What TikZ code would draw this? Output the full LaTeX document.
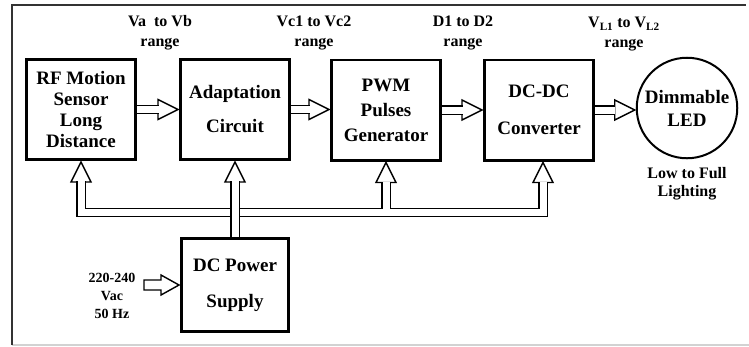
\documentclass[tikz,border=0pt]{standalone}
\usepackage{fontspec}
\setmainfont{Liberation Serif}
\usetikzlibrary{calc}
\newcommand\boxfont{\fontsize{19}{21}\selectfont\bfseries}
\newcommand\lblfont{\fontsize{16}{20}\selectfont\bfseries}
\newcommand\smallfont{\fontsize{14}{18}\selectfont\bfseries}
\begin{document}
\begin{tikzpicture}[x=1pt,y=-1pt,
  block/.style={draw,line width=2.6pt,minimum width=109.4pt,minimum height=100.4pt,align=center,font=\boxfont},
  pipe/.style={double,double distance=7pt,line width=1.4pt,line join=miter},
  head/.style={draw,fill=white,line width=1.4pt,line join=miter},
  lbl/.style={align=center,font=\lblfont}]
\useasboundingbox (0,0) rectangle (749,346);
\draw[gray!35,line width=1.5pt] (12,345) -- (749,345);
\draw[black!80,line width=2pt] (12,345) -- (12,5) -- (746,5);

\node[block] (rf) at (81,109.5) {RF Motion\\Sensor\\Long\\Distance};
\node[block] (ad) at (235,109.5) {Adaptation\\[13pt]Circuit};
\node[block] (pwm) at (386,110) {PWM\\[4pt]Pulses\\[4pt]Generator};
\node[block] (dc) at (539,110) {DC-DC\\[16pt]Converter};
\node[draw,circle,line width=2pt,minimum size=86pt,align=center,font=\boxfont] (led) at (687,108) {Dimmable\\[2pt]LED};
\node[block,minimum width=107.4pt,minimum height=93.4pt] (ps) at (235,285) {DC Power\\[15pt]Supply};

% labels
\node[lbl] (lab1) at (160,33) {Va\ \ to Vb\\range};
\node[lbl] (lab2) at (314,33) {Vc1 to Vc2\\range};
\node[lbl] (lab3) at (463,33) {D1 to D2\\range};
\node[lbl] (lab4) at (624,34) {V\textsubscript{L1} to V\textsubscript{L2}\\range};
\node[lbl,font=\fontsize{16}{18}\selectfont\bfseries] (lowlab) at (687,184) {Low to Full\\Lighting};
\node[align=center,font=\smallfont] (ac) at (112,296) {220-240\\Vac\\50 Hz};

% signal arrows
\foreach \a/\b in {rf/ad,ad/pwm,pwm/dc,dc/led}{
  \draw[head] ($(\b.west |- \a.east)+(-1,0)$) -- ++(-20,-10) -- ++(0,20) -- cycle;
  \draw[pipe] (\a.east) -- ($(\b.west |- \a.east)+(-20.3,0)$);
}

% supply bus
\coordinate (t1) at (rf.south);
\coordinate (t2) at (ad.south);
\coordinate (t3) at (pwm.south);
\coordinate (t4) at ($(dc.south)+(4,0)$);
\coordinate (bus) at (0,212.5);
\foreach \t in {t1,t2,t3,t4}
  \draw[head] ($(\t)+(0,1)$) -- ++(-10,20) -- ++(20,0) -- cycle;
\draw[pipe] ($(t1)+(0,20.3)$) |- (bus -| t4) -- ($(t4)+(0,20.3)$)
  ($(t3)+(0,20.3)$) -- (bus -| t3);
\draw[pipe] (ps.north) -- ($(t2)+(0,20.3)$);

% mains input
\draw[head] ($(ps.west)+(-1,0)$) -- ++(-18,-10) -- ++(0,5) -- ++(-17,0)
  -- ++(0,10) -- ++(17,0) -- ++(0,5) -- cycle;
\end{tikzpicture}
\end{document}
